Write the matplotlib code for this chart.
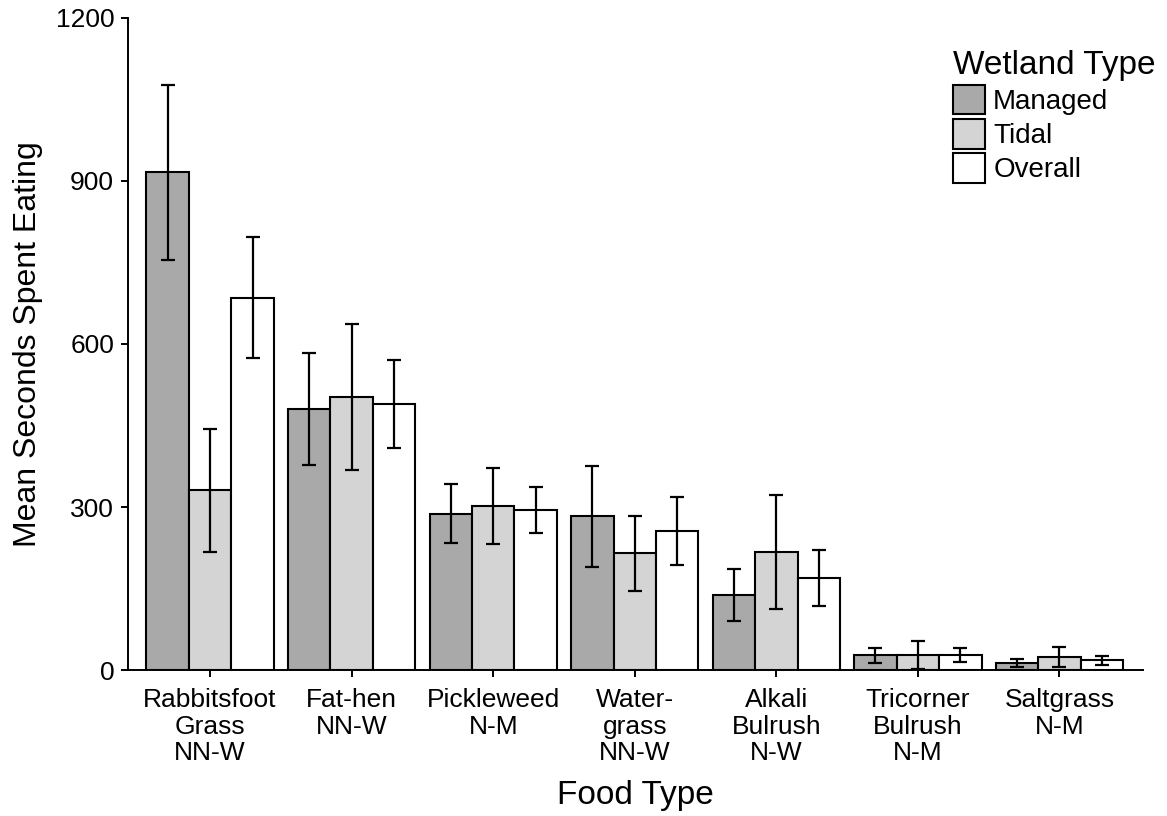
import matplotlib.pyplot as plt
import numpy as np
from matplotlib.patches import Patch

plt.rcParams["font.family"] = ["Liberation Sans", "DejaVu Sans"]

# food types (name / status) and mean seconds spent eating with standard errors
foods = ["Rabbitsfoot\nGrass\nNN-W", "Fat-hen\nNN-W", "Pickleweed\nN-M", "Water-\ngrass\nNN-W",
         "Alkali\nBulrush\nN-W", "Tricorner\nBulrush\nN-M", "Saltgrass\nN-M"]
wetland_types = ["Managed", "Tidal", "Overall"]

managed_mean = [916, 481, 288, 283, 138, 27, 13]
managed_se = [161, 103, 54, 93, 48, 14, 7]
tidal_mean = [331, 503, 302, 215, 217, 28, 24]
tidal_se = [113, 134, 70, 69, 105, 26, 18]
overall_mean = [685, 490, 294, 256, 169, 27, 18]
overall_se = [111, 81, 42, 63, 51, 13, 8]

colors = ["#a9a9a9", "#d4d4d4", "#ffffff"]

fig = plt.figure(figsize=(11.67, 8.16), dpi=100)
ax = fig.add_axes([0.1097, 0.1789, 0.8697, 0.7991])

x = np.arange(len(foods))
w = 0.3
series = [(managed_mean, managed_se), (tidal_mean, tidal_se), (overall_mean, overall_se)]
for i, (m, se) in enumerate(series):
    pos = x + (i - 1) * w
    ax.bar(pos, m, width=w, color=colors[i], edgecolor="black", linewidth=1.5, zorder=2)
    ax.errorbar(pos, m, yerr=se, fmt="none", ecolor="black", elinewidth=1.6,
                capsize=5, capthick=1.6, zorder=3)

ax.set_xlim(-0.58, 6.59)
ax.set_ylim(0, 1200)
ax.set_yticks([0, 300, 600, 900, 1200])
ax.set_xticks(x)
ax.set_xticklabels(foods, linespacing=1.13)

for s in ["top", "right"]:
    ax.spines[s].set_visible(False)
for s in ["left", "bottom"]:
    ax.spines[s].set_linewidth(1.4)

ax.tick_params(axis="both", labelsize=19, length=5, width=1.4, direction="out", pad=5)
ax.tick_params(axis="x", pad=8)
ax.set_xlabel("Food Type", fontsize=24, labelpad=11)
ax.set_ylabel("Mean Seconds Spent Eating", fontsize=23, labelpad=9)

handles = [Patch(facecolor=c, edgecolor="black", linewidth=1.5) for c in colors]
leg = ax.legend(handles, wetland_types, title="Wetland Type", loc="upper left",
                bbox_to_anchor=(939 / 1167, 1 - 36 / 816), bbox_transform=fig.transFigure,
                frameon=False, fontsize=20, title_fontsize=24, handlelength=1.15,
                handleheight=1.25, labelspacing=0.15, handletextpad=0.3,
                borderpad=0, alignment="left")

fig.savefig("out.png", dpi=100, facecolor="white")
